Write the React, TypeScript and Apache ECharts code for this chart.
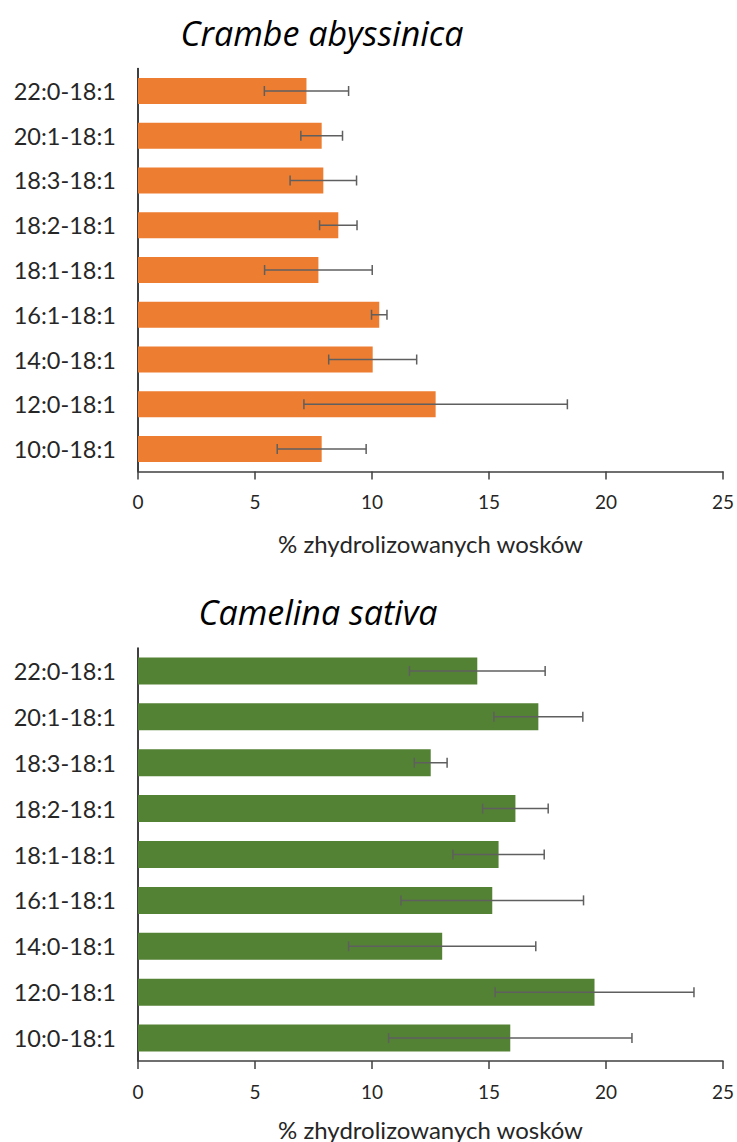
import React, { useEffect, useRef } from "react";
import * as echarts from "echarts";

const categories = [
  "22:0-18:1",
  "20:1-18:1",
  "18:3-18:1",
  "18:2-18:1",
  "18:1-18:1",
  "16:1-18:1",
  "14:0-18:1",
  "12:0-18:1",
  "10:0-18:1",
];

const crambeMean = [7.2, 7.85, 7.92, 8.56, 7.71, 10.31, 10.03, 12.72, 7.85];
const crambeErr = [1.8, 0.89, 1.42, 0.8, 2.3, 0.33, 1.88, 5.63, 1.9];

const camelinaMean = [14.5, 17.11, 12.51, 16.13, 15.41, 15.14, 13.0, 19.51, 15.91];
const camelinaErr = [2.9, 1.9, 0.7, 1.4, 1.95, 3.9, 4.0, 4.25, 5.2];

const xTicks = [0, 5, 10, 15, 20, 25];
const titles = ["Crambe abyssinica", "Camelina sativa"];
const axisName = "% zhydrolizowanych wosków";

const FONT = "Lato, 'Open Sans', sans-serif";
const TITLE_FONT = "'Open Sans', Lato, sans-serif";

function errData(mean: number[], err: number[]) {
  return mean.map((m, i) => [i, m - err[i], m + err[i]]);
}

function renderErr(params: any, api: any) {
  const i = api.value(0);
  const lo = api.coord([api.value(1), i]);
  const hi = api.coord([api.value(2), i]);
  const cap = 5;
  const style = { stroke: "#5f5f5f", lineWidth: 1.5 };
  return {
    type: "group",
    children: [
      { type: "line", shape: { x1: lo[0], y1: lo[1], x2: hi[0], y2: hi[1] }, style },
      { type: "line", shape: { x1: lo[0], y1: lo[1] - cap, x2: lo[0], y2: lo[1] + cap }, style },
      { type: "line", shape: { x1: hi[0], y1: hi[1] - cap, x2: hi[0], y2: hi[1] + cap }, style },
    ],
  };
}

export default function App() {
  const ref = useRef<HTMLDivElement>(null);
  useEffect(() => {
    document.body.style.margin = "0";
    if (!ref.current) return;
    const chart = echarts.init(ref.current, undefined, { renderer: "svg" });
    const grids = [
      { left: 138, right: 14, top: 68.6, height: 402.8 },
      { left: 138, right: 14, top: 648, height: 414 },
    ];
    const nameGaps = [60, 56];
    const xAxes = grids.map((_, gi) => ({
      type: "value",
      gridIndex: gi,
      min: xTicks[0],
      max: xTicks[xTicks.length - 1],
      interval: 5,
      name: axisName,
      nameLocation: "middle",
      nameGap: nameGaps[gi],
      nameTextStyle: { fontFamily: FONT, fontSize: 24, color: "#262626" },
      axisLine: { show: true, lineStyle: { color: "#404040", width: 1.5 } },
      axisTick: { show: true, length: 8, lineStyle: { color: "#404040", width: 1.5 } },
      axisLabel: { fontFamily: FONT, fontSize: 19, color: "#262626", margin: 21 },
      splitLine: { show: false },
    }));
    const yAxes = grids.map((_, gi) => ({
      type: "category",
      gridIndex: gi,
      data: categories,
      inverse: true,
      axisLine: { show: true, lineStyle: { color: "#000", width: 1.5 } },
      axisTick: { show: false },
      axisLabel: { fontFamily: FONT, fontSize: 23.5, color: "#262626", margin: 22 },
    }));
    const titleStyle = {
      fontFamily: TITLE_FONT,
      fontSize: 34,
      fontStyle: "italic",
      fill: "#000",
      textAlign: "center",
      textVerticalAlign: "middle",
    };
    const option: any = {
      animation: false,
      grid: grids,
      xAxis: xAxes,
      yAxis: yAxes,
      graphic: [
        { type: "text", x: 322, y: 33, style: { ...titleStyle, text: titles[0] } },
        { type: "text", x: 318, y: 612, style: { ...titleStyle, text: titles[1] } },
      ],
      series: [
        {
          type: "bar",
          xAxisIndex: 0,
          yAxisIndex: 0,
          data: crambeMean,
          barWidth: 26,
          itemStyle: { color: "#ED7D31" },
          z: 2,
        },
        {
          type: "custom",
          xAxisIndex: 0,
          yAxisIndex: 0,
          data: errData(crambeMean, crambeErr),
          encode: { x: [1, 2], y: 0 },
          renderItem: renderErr,
          z: 5,
        },
        {
          type: "bar",
          xAxisIndex: 1,
          yAxisIndex: 1,
          data: camelinaMean,
          barWidth: 27,
          itemStyle: { color: "#548235" },
          z: 2,
        },
        {
          type: "custom",
          xAxisIndex: 1,
          yAxisIndex: 1,
          data: errData(camelinaMean, camelinaErr),
          encode: { x: [1, 2], y: 0 },
          renderItem: renderErr,
          z: 5,
        },
      ],
    };
    chart.setOption(option);
    return () => chart.dispose();
  }, []);
  return <div ref={ref} style={{ width: 737, height: 1142 }} />;
}
